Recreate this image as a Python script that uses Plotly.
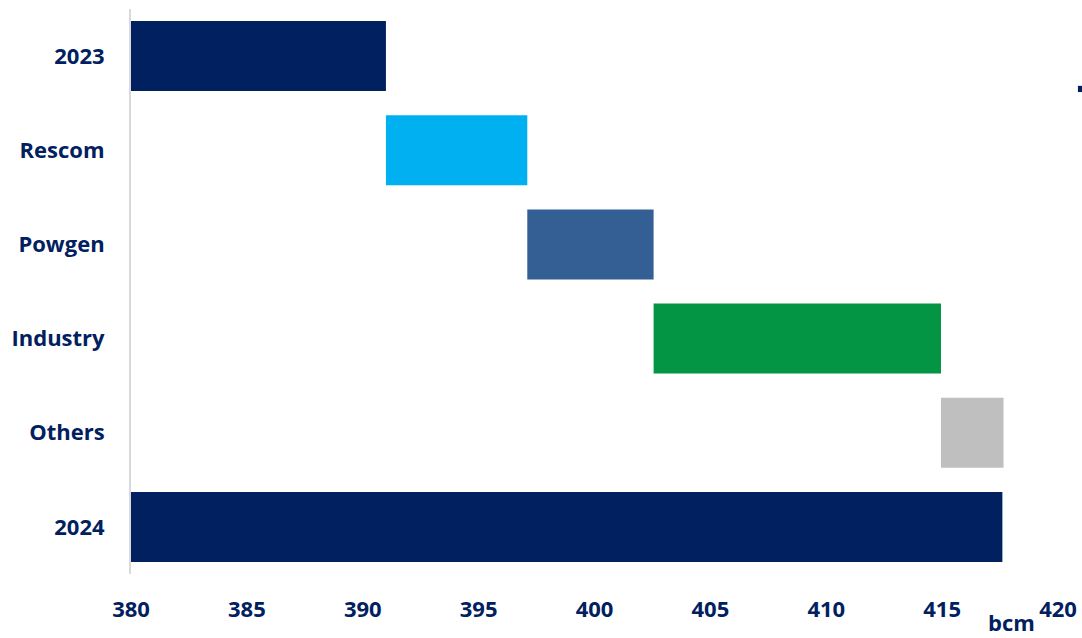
import plotly.graph_objects as go

categories = ["2023", "Rescom", "Powgen", "Industry", "Others", "2024"]
start_2023 = 391.0
changes = [6.1, 5.45, 12.4, 2.7]
end_2024 = 417.6
colors = ["#002060", "#00B0F0", "#335F94", "#039543", "#BFBFBF", "#002060"]
x_ticks = [380, 385, 390, 395, 400, 405, 410, 415, 420]
axis_min = 380

# build bases and lengths
bases = [axis_min]
lengths = [start_2023 - axis_min]
running = start_2023
for c in changes:
    bases.append(running)
    lengths.append(c)
    running += c
bases.append(axis_min)
lengths.append(end_2024 - axis_min)

navy = "#002060"
font_family = "Open Sans"

fig = go.Figure(go.Bar(
    y=categories,
    x=lengths,
    base=bases,
    orientation="h",
    marker=dict(color=colors, line=dict(width=0)),
    hoverinfo="skip",
))

fig.update_layout(
    width=1082, height=638,
    margin=dict(l=131, r=24, t=9, b=64),
    plot_bgcolor="white", paper_bgcolor="white",
    bargap=0.256,
    showlegend=False,
    font=dict(family=font_family, color=navy),
    xaxis=dict(
        range=[380, 420], tickvals=x_ticks, ticktext=[str(v) for v in x_ticks],
        showgrid=False, zeroline=False, showline=False, automargin=False,
        tickfont=dict(size=22, color=navy, family=font_family, weight="bold"),
        ticks="", ticklabelstandoff=20,
    ),
    yaxis=dict(
        categoryorder="array", categoryarray=categories[::-1],
        showgrid=False, zeroline=False, automargin=False,
        showline=True, linecolor="#D9D9D9", linewidth=2,
        tickfont=dict(size=22, color=navy, family=font_family, weight="bold"),
        ticks="", ticklabelstandoff=20,
    ),
    annotations=[dict(
        text="bcm", xref="paper", yref="paper", x=0.977, y=-0.085,
        xanchor="right", yanchor="middle", showarrow=False,
        font=dict(size=22, color=navy, family=font_family, weight="bold"),
    )],
    shapes=[dict(
        type="rect", xref="paper", yref="paper",
        x0=1.0215, x1=1.028, y0=0.853, y1=0.864,
        fillcolor=navy, line=dict(width=0),
    )],
)

fig.write_html("out.html")
